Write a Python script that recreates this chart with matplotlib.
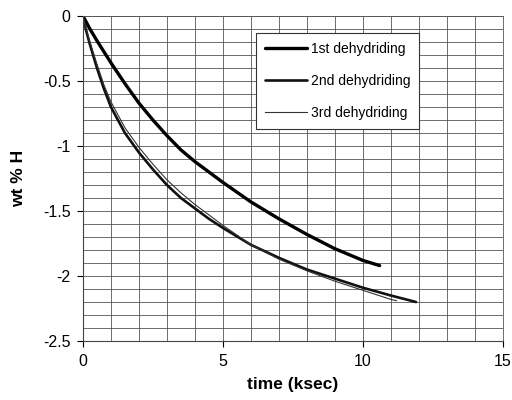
import matplotlib

matplotlib.use("Agg")
import matplotlib.pyplot as plt
from matplotlib.ticker import MultipleLocator

plt.rcParams["font.family"] = ["Liberation Sans", "DejaVu Sans"]

# values (time in ksec, wt % H)
time_1st = [0, 0.25, 0.5, 1, 1.5, 2, 2.5, 3, 3.5, 4, 4.5, 5, 6, 7, 8, 9, 10, 10.6]
wt_1st = [0, -0.10, -0.19, -0.36, -0.52, -0.67, -0.80, -0.92, -1.03, -1.12,
          -1.20, -1.28, -1.43, -1.56, -1.68, -1.79, -1.88, -1.92]

time_2nd = [0, 0.1, 0.25, 0.5, 0.75, 1, 1.5, 2, 2.5, 3, 3.5, 4, 4.5, 5, 6, 7, 8,
            9, 10, 11, 11.9]
wt_2nd = [0, -0.10, -0.22, -0.40, -0.56, -0.70, -0.90, -1.05, -1.18, -1.30,
          -1.40, -1.48, -1.56, -1.63, -1.76, -1.86, -1.95, -2.02, -2.09, -2.15,
          -2.20]

time_3rd = [0, 0.1, 0.25, 0.5, 0.75, 1, 1.5, 2, 2.5, 3, 3.5, 4, 4.5, 5, 6, 7, 8,
            9, 10, 11, 11.2]
wt_3rd = [0, -0.09, -0.20, -0.37, -0.53, -0.66, -0.86, -1.01, -1.14, -1.26,
          -1.36, -1.45, -1.53, -1.61, -1.76, -1.87, -1.96, -2.04, -2.11, -2.18,
          -2.19]

labels = ["1st dehydriding", "2nd dehydriding", "3rd dehydriding"]

fig = plt.figure(figsize=(5.12, 4.0), dpi=100)
ax = fig.add_axes([0.162, 0.1475, 0.82, 0.8125])

ax.plot(time_1st, wt_1st, color="black", linewidth=2.4, label=labels[0],
        solid_capstyle="round", solid_joinstyle="round")
ax.plot(time_2nd, wt_2nd, color="#111111", linewidth=1.9, label=labels[1],
        solid_capstyle="round", solid_joinstyle="round")
ax.plot(time_3rd, wt_3rd, color="#333333", linewidth=0.8, label=labels[2])

ax.set_xlim(0, 15)
ax.set_ylim(-2.5, 0)
ax.set_xticks([0, 5, 10, 15])
ax.set_yticks([-2.5, -2, -1.5, -1, -0.5, 0])
ax.set_yticklabels(["-2.5", "-2", "-1.5", "-1", "-0.5", "0"])
ax.xaxis.set_minor_locator(MultipleLocator(1))
ax.yaxis.set_minor_locator(MultipleLocator(0.1))

ax.grid(which="both", color="#555555", linewidth=0.6)
ax.set_axisbelow(True)

ax.tick_params(which="major", direction="out", length=4, width=0.8,
               labelsize=11.5, pad=5)
ax.tick_params(which="minor", length=0)

for side in ["top", "right"]:
    ax.spines[side].set_color("#555555")
    ax.spines[side].set_linewidth(0.6)
for side in ["left", "bottom"]:
    ax.spines[side].set_color("#444444")
    ax.spines[side].set_linewidth(0.8)

ax.set_xlabel("time (ksec)", fontsize=12.5, fontweight="bold", labelpad=6)
ax.set_ylabel("wt % H", fontsize=12.5, fontweight="bold", labelpad=12)

leg = ax.legend(
    loc="upper left",
    bbox_to_anchor=(0.412, 0.948),
    borderaxespad=0,
    fontsize=10,
    handlelength=3.0,
    handletextpad=0.3,
    labelspacing=1.3,
    borderpad=0.65,
    fancybox=False,
    framealpha=1,
    edgecolor="#333333",
)
leg.get_frame().set_linewidth(0.8)

fig.savefig("out.png", dpi=100)
